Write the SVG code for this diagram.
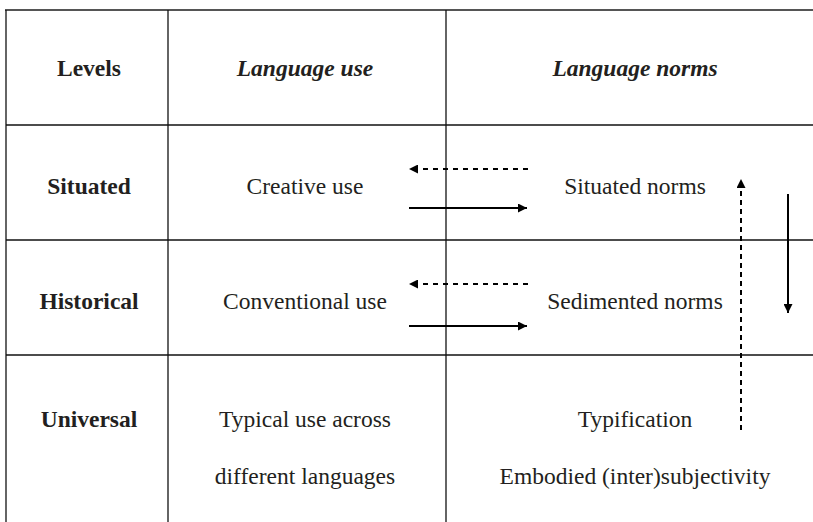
<svg xmlns="http://www.w3.org/2000/svg" width="813" height="522" viewBox="0 0 813 522">
<defs>
<style>
text{font-family:"Liberation Serif","Times New Roman",serif;font-size:23.5px;fill:#231f20;text-anchor:middle}
.b{font-weight:bold}
.hi{font-weight:bold;font-style:italic}
.grid{stroke:#111;stroke-width:1.3;fill:none}
.arr{stroke:#000;stroke-width:2;fill:none}
.dash{stroke-dasharray:5 5}
.vdash{stroke-dasharray:5 4}
</style>
<marker id="ah" viewBox="0 0 10 10" refX="10" refY="5" markerWidth="10" markerHeight="9" markerUnits="userSpaceOnUse" orient="auto">
<path d="M0,0 L10,5 L0,10 z" fill="#000"/>
</marker>
</defs>
<rect width="813" height="522" fill="#fff"/>
<g id="table">
<line x1="5" y1="10" x2="813" y2="10" stroke="#555" stroke-width="2"/>
<line class="grid" x1="6" y1="10" x2="6" y2="522"/>
<line class="grid" x1="168" y1="10" x2="168" y2="522"/>
<line class="grid" x1="446" y1="10" x2="446" y2="522"/>
<line class="grid" x1="6" y1="125" x2="813" y2="125"/>
<line class="grid" x1="6" y1="240" x2="813" y2="240"/>
<line class="grid" x1="6" y1="355" x2="813" y2="355"/>
</g>
<g id="header">
<text class="b" x="89" y="76">Levels</text>
<text class="hi" x="305" y="76">Language use</text>
<text class="hi" x="635" y="76">Language norms</text>
</g>
<g id="row-situated">
<text class="b" x="89" y="194">Situated</text>
<text x="305" y="194">Creative use</text>
<text x="635" y="194">Situated norms</text>
</g>
<g id="row-historical">
<text class="b" x="89" y="309">Historical</text>
<text x="305" y="309">Conventional use</text>
<text x="635" y="309">Sedimented norms</text>
</g>
<g id="row-universal">
<text class="b" x="89" y="427">Universal</text>
<text x="305" y="427">Typical use across</text>
<text x="305" y="484">different languages</text>
<text x="635" y="427">Typification</text>
<text x="635" y="484">Embodied (inter)subjectivity</text>
</g>
<g id="connectors">
<line class="arr dash" x1="528" y1="169" x2="409" y2="169" marker-end="url(#ah)"/>
<line class="arr" x1="409" y1="208" x2="527" y2="208" marker-end="url(#ah)"/>
<line class="arr dash" x1="528" y1="284" x2="409" y2="284" marker-end="url(#ah)"/>
<line class="arr" x1="409" y1="326" x2="527" y2="326" marker-end="url(#ah)"/>
<line class="arr vdash" x1="741" y1="430" x2="741" y2="179" marker-end="url(#ah)"/>
<line class="arr" x1="788" y1="194" x2="788" y2="313" marker-end="url(#ah)"/>
</g>
</svg>
